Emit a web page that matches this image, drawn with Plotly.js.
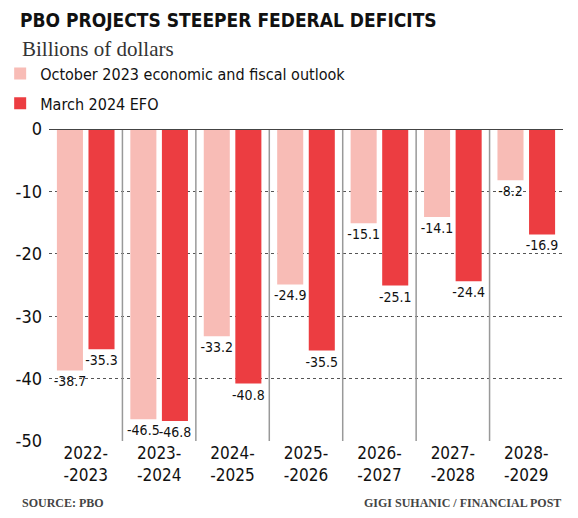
<!DOCTYPE html>
<html>
<head>
<meta charset="utf-8">
<script src="https://cdn.plot.ly/plotly-3.0.1.min.js"></script>
<style>html,body{margin:0;padding:0;background:#fff;}#chart{width:578px;height:518px;}</style>
</head>
<body>
<div id="chart"></div>
<script>
var categories = ["2022-<br>-2023","2023-<br>-2024","2024-<br>-2025","2025-<br>-2026","2026-<br>-2027","2027-<br>-2028","2028-<br>-2029"];
var october2023 = [-38.7, -46.5, -33.2, -24.9, -15.1, -14.1, -8.2];
var march2024 = [-35.3, -46.8, -40.8, -35.5, -25.1, -24.4, -16.9];
var seriesNames = ["October 2023 economic and fiscal outlook", "March 2024 EFO"];
var yTicks = [0, -10, -20, -30, -40, -50];

var NARROW = '"Liberation Sans Narrow", "DejaVu Sans Condensed", Roboto, sans-serif';
var SERIF = '"Liberation Serif", "DejaVu Serif", serif';

function fmt(v){ return v.toFixed(1); }

var traces = [
  {type:'bar', name: seriesNames[0], legendgroup:'oct', x: categories, y: october2023,
   marker:{color:'#f8bcb6'}, text: october2023.map(fmt), textposition:'outside', constraintext:'none',
   textfont:{family:NARROW, size:14, color:'#111'}, cliponaxis:false, hoverinfo:'none'},
  {type:'bar', name: seriesNames[1], legendgroup:'mar', x: categories, y: march2024,
   marker:{color:'#ec3d41'}, text: march2024.map(fmt), textposition:'outside', constraintext:'none',
   textfont:{family:NARROW, size:14, color:'#111'}, cliponaxis:false, hoverinfo:'none'}
];

var shapes = [];
for (var i = 0; i < categories.length - 1; i++) {
  shapes.push({type:'line', xref:'x', yref:'y', x0:i+0.5, x1:i+0.5, y0:0, y1:-50,
    line:{color:'#999', width:1.5}, layer:'above'});
  shapes.push({type:'line', xref:'x', yref:'y', ysizemode:'pixel', yanchor:-50,
    x0:i+0.5, x1:i+0.5, y0:0, y1:-14, line:{color:'#111', width:3}});
}
shapes.push({type:'line', xref:'paper', yref:'y', x0:0, x1:1, y0:0, y1:0,
  line:{color:'#444', width:2}, layer:'above'});

var layout = {
  width:578, height:518,
  margin:{l:49, r:15, t:129, b:77, autoexpand:false},
  paper_bgcolor:'#fff', plot_bgcolor:'#fff',
  barmode:'group', bargap:0.14, bargroupgap:0.175,
  showlegend:true,
  legend:{x:-0.095, xanchor:'left', y:1.232, yanchor:'top', bgcolor:'rgba(0,0,0,0)',
    font:{family:NARROW, size:16, color:'#111'}, itemwidth:30, tracegroupgap:6, traceorder:'grouped'},
  title:{text:'<b>PBO PROJECTS STEEPER FEDERAL DEFICITS</b>', xref:'container', x:20/578, xanchor:'left',
    yref:'container', y:1-14/518, yanchor:'top', font:{family:NARROW, size:19, color:'#111'}},
  xaxis:{type:'category', showgrid:false, zeroline:false, showline:false, ticks:'',
    tickfont:{family:NARROW, size:17, color:'#111'}, fixedrange:true},
  yaxis:{range:[-50, 0], tickvals:yTicks, ticktext:yTicks.map(String), showgrid:true,
    gridcolor:'#555', griddash:'dot', gridwidth:1, zeroline:false, showline:false, ticks:'',
    tickfont:{family:NARROW, size:18, color:'#111'}, ticklabelstandoff:6, fixedrange:true},
  shapes: shapes,
  annotations:[
    {text:'Billions of dollars', xref:'paper', yref:'paper', x:-29/514, y:(441-35)/312, xanchor:'left', yanchor:'top',
      showarrow:false, font:{family:SERIF, size:21, color:'#333'}},
    {text:'<b>SOURCE: PBO</b>', xref:'paper', yref:'paper', x:-29/514, y:(441-494)/312, xanchor:'left', yanchor:'top',
      showarrow:false, font:{family:SERIF, size:12, color:'#444'}},
    {text:'<b>GIGI SUHANIC / FINANCIAL POST</b>', xref:'paper', yref:'paper', x:1, y:(441-494)/312, xanchor:'right', yanchor:'top',
      showarrow:false, font:{family:SERIF, size:12, color:'#444'}}
  ]
};

Plotly.newPlot('chart', traces, layout, {staticPlot:true, displayModeBar:false});
</script>
</body>
</html>
